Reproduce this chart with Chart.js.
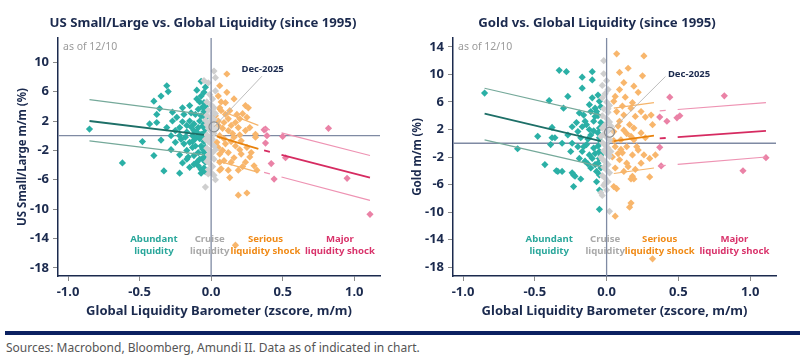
<!DOCTYPE html>
<html>
<head>
<meta charset="utf-8">
<script src="https://cdn.jsdelivr.net/npm/chart.js@4.4.1/dist/chart.umd.min.js"></script>
<style>
  body { margin: 0; background: #fff; width: 800px; height: 359px; position: relative; overflow: hidden; font-family: "Noto Sans", sans-serif; }
  canvas { position: absolute; top: 0; }
  #smallLarge { left: 0; }
  #gold { left: 400px; }
  #bar { position: absolute; left: 5px; top: 331px; width: 795px; height: 4px; background: #0c2161; }
  #src { position: absolute; left: 6px; top: 339px; font-size: 12px; color: #555; white-space: nowrap; }
</style>
</head>
<body>
<canvas id="smallLarge" width="400" height="325"></canvas>
<canvas id="gold" width="400" height="325"></canvas>
<div id="bar"></div>
<div id="src">Sources: Macrobond, Bloomberg, Amundi II. Data as of indicated in chart.</div>
<script>
// ---- data (x = liquidity barometer zscore m/m, y = asset m/m %) ----
const xTicks = [-1.0, -0.5, 0.0, 0.5, 1.0];
const slYTicks = [10, 6, 2, -2, -6, -10, -14, -18];
const goldYTicks = [14, 10, 6, 2, -2, -6, -10, -14, -18];
const zoneNames = [["Abundant", "liquidity"], ["Cruise", "liquidity"], ["Serious", "liquidity shock"], ["Major", "liquidity shock"]];

const slTeal = [
  [-0.85,0.9],[-0.62,-3.7],[-0.48,-0.8],[-0.40,-2.7],[-0.33,-4.8],[-0.22,-5.1],[-0.07,-5.1],
  [-0.40,4.7],[-0.35,5.4],[-0.31,6.8],[-0.30,6.0],[-0.36,3.7],[-0.38,2.9],[-0.43,1.6],[-0.38,1.8],
  [-0.31,1.1],[-0.35,-0.6],[-0.28,0.0],[-0.25,-0.9],[-0.28,-1.9],[-0.22,-2.6],[-0.20,-3.7],[-0.17,-2.0],
  [-0.16,-2.9],[-0.27,2.0],[-0.27,3.2],[-0.24,2.5],[-0.20,3.8],[-0.15,4.1],[-0.10,5.0],[-0.10,6.2],
  [-0.07,7.4],[-0.09,3.6],[-0.19,2.9],[-0.22,1.1],[-0.17,1.4],[-0.15,2.0],[-0.12,0.7],[-0.18,-0.2],
  [-0.15,-0.9],[-0.11,-1.4],[-0.09,-2.3],[-0.08,-3.2],[-0.09,-4.1],[-0.12,1.6],[-0.09,1.1],[-0.07,0.2],
  [-0.08,-0.4],[-0.07,-1.4],[-0.05,-2.3],[-0.06,-3.2],[-0.11,2.9],[-0.07,2.7],[-0.08,2.0],[-0.05,4.5],
  [-0.07,5.4],[-0.22,0.0],[-0.25,0.7],[-0.17,0.5],[-0.13,0.0],[-0.11,-0.4],[-0.10,0.5],[-0.13,-1.6],
  [-0.17,-3.2],[-0.12,-2.7],[-0.10,-3.6],
  [-0.04,6.6],[-0.05,5.9],[-0.04,4.0],[-0.05,3.3],[-0.04,2.4],[-0.05,1.6],[-0.04,0.9],[-0.05,0.4],
  [-0.04,-0.2],[-0.05,-0.8],[-0.04,-1.6],[-0.05,-2.9],[-0.04,-3.6],[-0.05,-4.4],[-0.04,-4.9],[-0.06,1.3],
  [-0.06,-0.1],[-0.06,-1.8],[-0.06,3.9],[-0.08,4.6],[-0.09,0.0],[-0.13,-0.8],[-0.14,1.2],[-0.19,-1.1],
  [-0.21,-0.5],[-0.20,1.9],[-0.14,3.1],[-0.12,-3.9],[-0.15,-4.3],[-0.07,-4.6]
];
const slGray = [
  [-0.05,7.5],[-0.02,7.2],[0.02,8.8],[0.03,7.9],[0.03,6.1],[-0.01,5.6],[0.01,5.0],[-0.03,4.6],
  [0.00,4.2],[0.02,3.8],[-0.02,3.5],[0.01,3.1],[-0.03,2.8],[0.00,2.5],[0.02,2.2],[-0.01,1.9],
  [-0.03,1.5],[0.01,1.3],[-0.02,1.0],[0.00,0.6],[0.02,0.3],[-0.03,0.1],[-0.01,-0.2],[0.01,-0.5],
  [-0.02,-0.8],[0.00,-1.1],[0.02,-1.4],[-0.03,-1.7],[-0.01,-2.0],[0.01,-2.3],[-0.02,-2.6],[0.00,-2.9],
  [0.02,-3.2],[-0.03,-3.5],[-0.01,-3.8],[0.01,-4.2],[-0.02,-4.6],[0.00,-5.0],[-0.02,-5.2],[0.02,-5.4],
  [0.03,-6.0],[-0.04,-7.0],[0.03,-1.9],[0.03,0.9],[0.03,3.0],[-0.04,-0.5],[-0.04,2.1],[0.00,-0.3],
  [0.01,1.8],[-0.01,-3.0]
];
const slOrange = [
  [0.11,8.4],[0.06,6.8],[0.05,5.4],[0.06,3.8],[0.07,3.4],[0.10,4.5],[0.13,3.4],[0.18,2.9],[0.24,4.1],
  [0.26,3.8],[0.25,2.5],[0.12,2.3],[0.17,1.8],[0.09,1.8],[0.19,1.1],[0.12,0.7],[0.24,0.7],[0.06,0.0],
  [0.16,-0.2],[0.21,-0.7],[0.31,-0.2],[0.10,-1.1],[0.17,-1.4],[0.25,-1.6],[0.12,-2.3],[0.21,-2.5],
  [0.06,-2.5],[0.09,-3.4],[0.14,-3.6],[0.24,-3.6],[0.30,-4.1],[0.07,-4.5],[0.12,-4.7],[0.19,-4.7],
  [0.32,-4.7],[0.13,-5.7],[0.19,-8.1],[0.25,-7.8],[0.17,-14.9],[0.05,2.0],[0.04,-0.9],[0.05,1.4],
  [0.03,2.7],[0.11,5.9],[0.16,5.0],[0.20,2.3],[0.27,1.1],[0.31,0.2],[0.28,-2.3],[0.27,-2.9],
  [0.08,1.0],[0.14,1.4],[0.09,-0.4],[0.14,-0.8],[0.20,-1.9],[0.05,-1.6],[0.08,-2.0],[0.16,-3.0],
  [0.22,-4.2],[0.10,2.9],[0.15,0.3],[0.06,-3.6],[0.20,0.1],[0.07,4.6],[0.22,3.0],[0.06,-4.7]
];
const slPink = [
  [0.37,0.8],[0.38,0.9],[0.39,0.0],[0.38,-1.0],[0.50,-0.1],[0.52,-3.0],[0.42,-3.8],[0.44,-5.9],
  [0.82,1.0],[0.95,-5.8],[1.11,-10.7]
];

const goldTeal = [
  [-0.85,7.3],[-0.62,-0.8],[-0.48,1.0],[-0.40,6.2],[-0.33,10.6],[-0.28,10.4],[-0.27,6.8],[-0.30,5.1],
  [-0.38,2.3],[-0.38,0.8],[-0.36,0.8],[-0.39,-0.2],[-0.31,0.0],[-0.43,-3.1],[-0.35,-4.0],[-0.31,-4.1],
  [-0.24,-4.3],[-0.22,-4.8],[-0.18,-5.2],[-0.23,-6.3],[-0.05,-6.8],[-0.05,-9.6],[-0.17,9.6],[-0.10,10.4],
  [-0.10,9.2],[-0.17,8.0],[-0.19,4.4],[-0.16,4.1],[-0.10,6.6],[-0.12,5.6],[-0.08,5.1],[-0.24,2.4],
  [-0.27,1.2],[-0.20,1.7],[-0.17,2.4],[-0.15,3.2],[-0.12,2.0],[-0.09,3.2],[-0.08,3.9],[-0.11,1.2],
  [-0.24,0.0],[-0.20,-0.5],[-0.25,-1.2],[-0.17,-1.2],[-0.14,-0.2],[-0.12,-1.7],[-0.09,-0.7],[-0.19,-2.2],
  [-0.15,-2.6],[-0.10,-2.2],[-0.08,-3.1],[-0.11,-3.6],[-0.07,-4.1],[-0.07,-5.6],[-0.05,0.8],[-0.05,2.2],
  [-0.05,-1.2],[-0.05,-2.2],[-0.07,4.6],[-0.05,6.1],
  [-0.06,7.0],[-0.04,5.3],[-0.06,4.0],[-0.04,3.0],[-0.06,1.5],[-0.04,0.2],[-0.06,-0.4],[-0.04,-1.7],
  [-0.06,-2.9],[-0.04,-3.6],[-0.05,-4.6],[-0.13,0.6],[-0.14,2.7],[-0.16,-0.5],[-0.21,3.0],[-0.13,-3.0],
  [-0.09,1.8],[-0.11,4.6],[-0.18,0.8],[-0.08,-1.5],[-0.34,-4.1],[-0.23,-4.6]
];
const goldGray = [
  [-0.02,12.0],[-0.02,10.1],[0.00,9.1],[-0.03,8.4],[0.01,7.8],[-0.01,7.2],[-0.03,6.6],[0.00,6.0],
  [0.02,5.5],[-0.02,5.0],[0.01,4.5],[-0.03,4.0],[0.00,3.6],[0.02,3.1],[-0.01,2.7],[-0.03,2.2],
  [0.01,1.8],[-0.02,1.3],[0.00,0.9],[0.02,0.5],[-0.03,0.1],[-0.01,-0.3],[0.01,-0.7],[-0.02,-1.1],
  [0.00,-1.5],[0.02,-1.9],[-0.03,-2.3],[-0.01,-2.7],[0.01,-3.1],[-0.02,-3.5],[0.00,-3.9],[0.02,-4.3],
  [-0.03,-4.7],[-0.01,-5.1],[0.01,-5.6],[-0.02,-6.1],[0.00,-6.8],[-0.04,-7.2],[-0.03,-7.6],[0.02,-9.9],
  [0.03,-1.2],[0.03,2.5],[-0.04,1.0],[-0.04,-2.0],[0.00,-0.2],[0.01,5.0],[-0.01,-5.8]
];
const goldOrange = [
  [0.07,13.0],[0.26,12.7],[0.09,10.3],[0.15,10.9],[0.25,9.8],[0.12,8.8],[0.19,8.3],[0.22,7.4],
  [0.06,6.8],[0.13,6.7],[0.05,6.1],[0.11,5.4],[0.17,5.1],[0.24,4.6],[0.31,4.1],[0.07,4.6],[0.12,4.1],
  [0.20,3.9],[0.27,3.8],[0.09,3.2],[0.16,2.7],[0.19,2.2],[0.32,2.7],[0.12,1.9],[0.05,1.7],[0.24,1.5],
  [0.17,1.0],[0.10,0.5],[0.27,0.8],[0.06,-0.5],[0.14,-0.5],[0.21,-0.5],[0.11,-1.4],[0.18,-1.7],
  [0.26,-1.7],[0.34,-1.7],[0.09,-2.4],[0.14,-2.9],[0.24,-2.9],[0.30,-2.2],[0.06,-3.6],[0.12,-4.1],
  [0.18,-4.8],[0.30,-4.9],[0.05,-6.3],[0.07,-6.6],[0.17,-8.7],[0.16,-9.3],[0.06,-10.6],[0.32,-16.8],
  [0.10,-0.9],[0.19,0.5],[0.08,2.5],[0.14,1.4],[0.05,0.4],[0.08,-1.5],[0.15,-3.4],[0.22,-1.0],
  [0.20,-3.8],[0.04,-2.0],[0.09,7.8],[0.18,5.9],[0.17,-5.2],[0.19,-5.2]
];
const goldPink = [
  [0.44,6.7],[0.37,3.8],[0.42,3.2],[0.51,4.0],[0.49,3.7],[0.37,-0.6],[0.38,-3.3],[0.82,6.9],
  [1.11,-2.1],[0.95,-4.0]
];

// fitted lines per zone: [x0, y0, x1, y1] for upper band, fit, lower band
const slFits = {
  teal:   [[-0.85,4.9,-0.05,2.9], [-0.85,2.0,-0.05,0.1], [-0.85,-0.7,-0.05,-2.6]],
  orange: [[0.04,3.6,0.33,1.4], [0.04,-0.1,0.33,-1.8], [0.04,-3.4,0.33,-5.0]],
  pink:   [[0.37,1.0,1.11,-2.7], [0.37,-2.0,1.11,-5.7], [0.37,-5.0,1.11,-8.8]]
};
const goldFits = {
  teal:   [[-0.85,8.0,-0.04,4.1], [-0.85,4.3,-0.04,0.3], [-0.85,0.5,-0.04,-3.4]],
  orange: [[0.05,5.1,0.33,5.9], [0.05,0.3,0.33,1.1], [0.05,-4.4,0.33,-3.6]],
  pink:   [[0.37,4.7,1.11,5.9], [0.37,0.7,1.11,1.8], [0.37,-3.3,1.11,-2.0]]
};
const slLatest = [0.02, 1.2];
const goldLatest = [0.02, 1.6];

// ---- styling ----
const NAVY = '#1b2a4e';
Chart.defaults.font.family = '"Noto Sans", sans-serif';
const dotColors = { teal: '#2bb0a6', gray: '#cfcfcf', orange: '#f8b66c', pink: '#ea82a6' };
const fitColors = {
  teal:   ['#75a99a', '#1d6f67'],
  orange: ['#f5b46a', '#e8820c'],
  pink:   ['#ee93b3', '#d62b61']
};
const zoneColors = ['#2aa79b', '#a9a9a9', '#f08a16', '#d9336b'];

const toXY = arr => arr.map(p => ({ x: p[0], y: p[1] }));

function dots(arr, color) {
  return { data: toXY(arr), pointStyle: 'rectRot', pointRadius: 3.6, backgroundColor: color, borderColor: color, borderWidth: 0, order: 5 };
}
function fitLines(fits, zone) {
  return fits[zone].map((f, i) => ({
    data: [{ x: f[0], y: f[1] }, { x: f[2], y: f[3] }],
    showLine: true, pointRadius: 0,
    borderColor: i == 1 ? fitColors[zone][1] : fitColors[zone][0],
    borderWidth: i == 1 ? 1.8 : 1.2,
    borderDash: zone == 'pink' ? [6, 12, 400] : [],
    order: 2
  }));
}

const annotPlugin = {
  id: 'annot',
  beforeDatasetsDraw(chart, args, o) {
    const { ctx, chartArea: a, scales: { x, y } } = chart;
    ctx.save();
    ctx.strokeStyle = '#7f8aa3';
    ctx.lineWidth = 1.3;
    ctx.beginPath();
    ctx.moveTo(a.left, y.getPixelForValue(0));
    ctx.lineTo(a.right, y.getPixelForValue(0));
    ctx.stroke();
    ctx.restore();
  },
  afterDatasetsDraw(chart, args, o) {
    const { ctx, chartArea: a, scales: { x, y } } = chart;
    ctx.save();
    ctx.strokeStyle = '#7f8aa3';
    ctx.lineWidth = 1.3;
    ctx.beginPath();
    ctx.moveTo(x.getPixelForValue(0), a.top);
    ctx.lineTo(x.getPixelForValue(0), a.bottom);
    ctx.stroke();

    // title
    ctx.fillStyle = NAVY;
    ctx.font = 'bold 13.2px "Noto Sans"';
    ctx.textAlign = 'center';
    ctx.textBaseline = 'middle';
    ctx.fillText(o.title, o.titleX, 23);

    // as of
    ctx.fillStyle = '#9b9b9b';
    ctx.font = '10.5px "Noto Sans"';
    ctx.textAlign = 'left';
    ctx.fillText('as of 12/10', a.left + 5, a.top + 9);

    // zone labels
    ctx.font = 'bold 9.6px "Noto Sans"';
    ctx.textAlign = 'center';
    o.zoneX.forEach((zx, i) => {
      ctx.fillStyle = zoneColors[i];
      ctx.fillText(zoneNames[i][0], x.getPixelForValue(zx), a.bottom - 37);
      ctx.fillText(zoneNames[i][1], x.getPixelForValue(zx), a.bottom - 25);
    });

    // latest point label
    const lx = x.getPixelForValue(o.latest[0]), ly = y.getPixelForValue(o.latest[1]);
    const ex = x.getPixelForValue(o.leader[0]), ey = y.getPixelForValue(o.leader[1]);
    ctx.strokeStyle = '#b5b5b5';
    ctx.lineWidth = 0.9;
    ctx.beginPath();
    ctx.moveTo(lx, ly);
    ctx.lineTo(ex, ey);
    ctx.stroke();
    ctx.fillStyle = NAVY;
    ctx.font = 'bold 9.5px "Noto Sans"';
    ctx.textAlign = o.decAlign;
    ctx.fillText('Dec-2025', x.getPixelForValue(o.decPos[0]), y.getPixelForValue(o.decPos[1]));
    ctx.restore();
  }
};

function buildChart(id, o) {
  const datasets = [
    dots(o.gray, dotColors.gray),
    dots(o.teal, dotColors.teal),
    dots(o.orange, dotColors.orange),
    dots(o.pink, dotColors.pink),
    ...fitLines(o.fits, 'teal'),
    ...fitLines(o.fits, 'orange'),
    ...fitLines(o.fits, 'pink'),
    { data: [{ x: o.latest[0], y: o.latest[1] }], pointStyle: 'circle', pointRadius: 5,
      backgroundColor: 'rgba(230,230,230,0.4)', borderColor: '#8f8f8f', borderWidth: 1.2, order: 0 }
  ];
  new Chart(document.getElementById(id), {
    type: 'scatter',
    data: { datasets },
    options: {
      responsive: false,
      animation: false,
      events: [],
      layout: { padding: { top: 38, right: o.padRight, left: 0, bottom: 0 } },
      plugins: { legend: { display: false }, tooltip: { enabled: false }, annot: o },
      scales: {
        x: {
          min: -1.07, max: 1.18,
          afterBuildTicks: s => { s.ticks = xTicks.map(v => ({ value: v })); },
          afterFit: s => { s.height = 49; },
          ticks: { callback: v => v.toFixed(1), color: NAVY, font: { size: 13, weight: 'bold' }, padding: 3, maxRotation: 0 },
          grid: { drawOnChartArea: false, tickLength: 5, color: '#8a8a8a' },
          border: { color: NAVY, width: 1.5 },
          title: { display: true, text: 'Global Liquidity Barometer (zscore, m/m)', color: NAVY,
                   font: { size: 13, weight: 'bold' }, padding: { top: 0, bottom: 6 } }
        },
        y: {
          min: o.yMin, max: o.yMax,
          afterBuildTicks: s => { s.ticks = o.yTicks.map(v => ({ value: v })); },
          afterFit: s => { s.width = o.yWidth; },
          ticks: { color: NAVY, font: { size: 13, weight: 'bold' }, padding: 4 },
          grid: { drawOnChartArea: false, tickLength: 5, color: '#8a8a8a' },
          border: { color: NAVY, width: 1.5 },
          title: { display: true, text: o.yTitle, color: NAVY,
                   font: { size: 11.5, weight: 'bold' }, padding: { top: o.yTitlePad, bottom: 0 } }
        }
      }
    },
    plugins: [annotPlugin]
  });
}

buildChart('smallLarge', {
  title: 'US Small/Large vs. Global Liquidity (since 1995)', titleX: 203,
  yTitle: 'US Small/Large m/m (%)', yTicks: slYTicks, yMin: -19.1, yMax: 13.3,
  yWidth: 58, yTitlePad: 16, padRight: 20,
  teal: slTeal, gray: slGray, orange: slOrange, pink: slPink, fits: slFits,
  latest: slLatest, leader: [0.355, 8.1], decPos: [0.36, 9.1], decAlign: 'center',
  zoneX: [-0.40, -0.01, 0.38, 0.90]
});
buildChart('gold', {
  title: 'Gold vs. Global Liquidity (since 1995)', titleX: 197,
  yTitle: 'Gold m/m (%)', yTicks: goldYTicks, yMin: -19.3, yMax: 15.3,
  yWidth: 53, yTitlePad: 11, padRight: 24,
  teal: goldTeal, gray: goldGray, orange: goldOrange, pink: goldPink, fits: goldFits,
  latest: goldLatest, leader: [0.41, 9.7], decPos: [0.427, 9.96], decAlign: 'left',
  zoneX: [-0.40, -0.01, 0.37, 0.89]
});
</script>
</body>
</html>
